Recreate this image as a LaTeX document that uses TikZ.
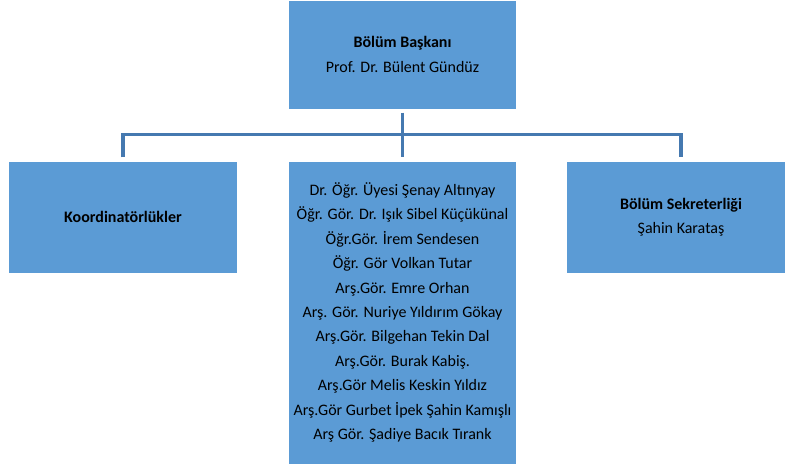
\documentclass[tikz,border=0pt]{standalone}
\usepackage{fontspec}
\setmainfont{Carlito}
\definecolor{boxblue}{HTML}{5B9BD5}
\definecolor{lineblue}{HTML}{4579B0}

\begin{document}
\begin{tikzpicture}[
    x=0.75pt,
    y=-0.75pt,
    box/.style ={
        rectangle,
        fill=boxblue,
        draw=white,
        line width=0.6pt,
        minimum width=171.5pt,
        align=center,
        font=\fontsize{12pt}{18.3pt}\selectfont
    },
    link/.style ={
        draw=lineblue,
        line width=2.3pt
    }
    ]
    \useasboundingbox (0,0) rectangle (785,470);

    \node[box, minimum height=81.75pt] (head) at (402.5,54.5)
        {\textbf{Bölüm Başkanı}\\Prof. Dr. Bülent Gündüz};
    \node[box, minimum height=84pt] (coord) at (123,217)
        {\textbf{Koordinatörlükler}};
    \node[box, minimum height=84pt] (secr) at (681,217)
        {\textbf{Bölüm Sekreterliği}\\Şahin Karataş};
    \node[box, minimum height=227.25pt] (staff) at (402.5,312.5)
        {Dr. Öğr. Üyesi Şenay Altınyay\\
         Öğr. Gör. Dr. Işık Sibel Küçükünal\\
         Öğr.Gör. İrem Sendesen\\
         Öğr. Gör Volkan Tutar\\
         Arş.Gör. Emre Orhan\\
         Arş. Gör. Nuriye Yıldırım Gökay\\
         Arş.Gör. Bilgehan Tekin Dal\\
         Arş.Gör. Burak Kabiş.\\
         Arş.Gör Melis Keskin Yıldız\\
         Arş.Gör Gurbet İpek Şahin Kamışlı\\
         Arş Gör. Şadiye Bacık Tırank};

    \draw[link] ([yshift=-2.5pt]head.south) -- ([yshift=2.5pt]staff.north);
    \draw[link] ([yshift=2.5pt]coord.north) -- ++(0,-23) -| ([yshift=2.5pt]secr.north);

\end{tikzpicture}
\end{document}
